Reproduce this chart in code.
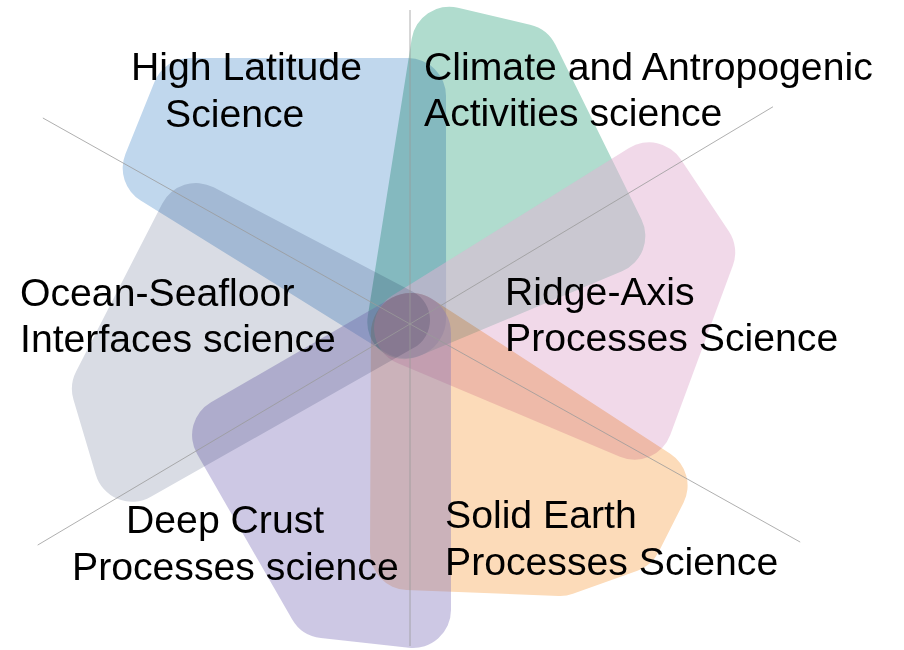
<!DOCTYPE html>
<html>
  <head>
    <meta charset="utf-8">
    <title>Science themes</title>
    <script src="https://d3js.org/d3.v7.min.js"></script>
    <style>
      body {
        margin: 0;
        background: #fff;
      }
      .label {
        font-family: "Liberation Sans", Arial, sans-serif;
        font-size: 39.2px;
        fill: #000;
      }
      .spoke {
        stroke: #9a9a9a;
        stroke-width: 0.8;
      }
    </style>
  </head>
  <body>
    <div id="chart"></div>

    <script>
      // Themes, in the order they are stacked
      const themes = [
        "High Latitude Science",
        "Climate and Antropogenic Activities science",
        "Ridge-Axis Processes Science",
        "Solid Earth Processes Science",
        "Deep Crust Processes science",
        "Ocean-Seafloor Interfaces science",
      ];
      const labelLines = [
        ["High Latitude", "Science"],
        ["Climate and Antropogenic", "Activities science"],
        ["Ridge-Axis", "Processes Science"],
        ["Solid Earth", "Processes Science"],
        ["Deep Crust", "Processes science"],
        ["Ocean-Seafloor", "Interfaces science"],
      ];

      // Petal outlines:
      // [angle in degrees clockwise from up, reach from the hub, corner round]
      const highLatitude = [[-44, 317, 38], [-0.5, 228, 38], [-34, 7, 40], [-58, 294, 38]];
      const climate = [[-72, 6, 37], [8, 282, 38], [23, 285, 38], [66, 216, 38]];
      const ridgeAxis = [[153, 4.5, 38], [59, 279, 38], [76, 296, 38], [113.5, 245, 38]];
      const solidEarth = [[174, 9, 40], [124, 289, 38], [134.5, 301, 38], [147.3, 278, 38], [180.5, 228, 38]];
      const deepCrust = [[174, 9, 40], [179.4, 286, 38], [197.1, 289, 38], [238.3, 211.5, 38]];
      const oceanSeafloor = [[288.4, 12.6, 32], [243.3, 311, 38], [257.8, 307, 38], [295.7, 237.5, 38]];
      const outlines = [highLatitude, climate, ridgeAxis, solidEarth, deepCrust, oceanSeafloor];

      // Thin guide lines out of the hub: [angle, length]
      const spokes = [[0, 314], [59.1, 423], [119.2, 447], [180, 322], [239.3, 433], [299.3, 421]];

      // Styles
      const fills = ["#c0d7ed", "#b0dcce", "#e3b3d3", "#fcdbb9", "#8275bb", "#d9dce4"];
      const opacities = [1, 1, 0.5, 1, 0.4, 1];
      const blends = ["multiply", "multiply", "normal", "multiply", "normal", "multiply"];

      // Layout
      const width = 904;
      const height = 650;
      const hub = [410, 324];
      const labelAnchors = [
        [[131, 80], [165, 127]],
        [[424, 80], [424, 126]],
        [[505, 305], [505, 351]],
        [[445, 528], [445, 575]],
        [[126, 533], [72, 580]],
        [[20, 306], [20, 352]],
      ];

      const rad = (deg) => (deg * Math.PI) / 180;

      // Outline of the convex hull of a ring of circles
      function petalPath(outline) {
        let c = outline.map(([a, d, r]) => {
          const [x, y] = d3.pointRadial(rad(a), d);
          return { x, y, r };
        });
        if (d3.polygonArea(c.map((p) => [p.x, p.y])) > 0) c = c.reverse();

        const n = c.length;
        const seg = [];
        for (let i = 0; i < n; i++) {
          const p = c[i];
          const q = c[(i + 1) % n];
          const L = Math.hypot(q.x - p.x, q.y - p.y);
          const ux = (q.x - p.x) / L;
          const uy = (q.y - p.y) / L;
          const k = (p.r - q.r) / L;
          const h = Math.sqrt(1 - k * k);
          const nx = k * ux + h * uy;
          const ny = k * uy - h * ux;
          seg.push([
            [p.x + p.r * nx, p.y + p.r * ny],
            [q.x + q.r * nx, q.y + q.r * ny],
          ]);
        }

        const path = d3.path();
        path.moveTo(seg[0][0][0], seg[0][0][1]);
        for (let i = 0; i < n; i++) {
          const o = c[(i + 1) % n];
          const end = seg[i][1];
          const next = seg[(i + 1) % n][0];
          path.lineTo(end[0], end[1]);
          const a0 = Math.atan2(end[1] - o.y, end[0] - o.x);
          const a1 = Math.atan2(next[1] - o.y, next[0] - o.x);
          path.arc(o.x, o.y, o.r, a0, a1, false);
        }
        path.closePath();
        return path.toString();
      }

      const svg = d3
        .select("#chart")
        .append("svg")
        .attr("width", width)
        .attr("height", height);

      const g = svg.append("g").attr("transform", `translate(${hub[0]},${hub[1]})`);

      // Draw the petals
      g.selectAll("path.petal")
        .data(themes)
        .join("path")
        .attr("class", "petal")
        .attr("d", (d, i) => petalPath(outlines[i]))
        .attr("fill", (d, i) => fills[i])
        .attr("fill-opacity", (d, i) => opacities[i])
        .style("mix-blend-mode", (d, i) => blends[i]);

      // Guide lines
      g.selectAll("line.spoke")
        .data(spokes)
        .join("line")
        .attr("class", "spoke")
        .attr("x1", 0)
        .attr("y1", 0)
        .attr("x2", (d) => d3.pointRadial(rad(d[0]), d[1])[0])
        .attr("y2", (d) => d3.pointRadial(rad(d[0]), d[1])[1]);

      // Labels
      const labels = svg
        .selectAll("text.label")
        .data(themes)
        .join("text")
        .attr("class", "label");

      labels
        .selectAll("tspan")
        .data((d, i) => labelLines[i].map((line, j) => ({ line, at: labelAnchors[i][j] })))
        .join("tspan")
        .attr("x", (d) => d.at[0])
        .attr("y", (d) => d.at[1])
        .text((d) => d.line);
    </script>
  </body>
</html>
